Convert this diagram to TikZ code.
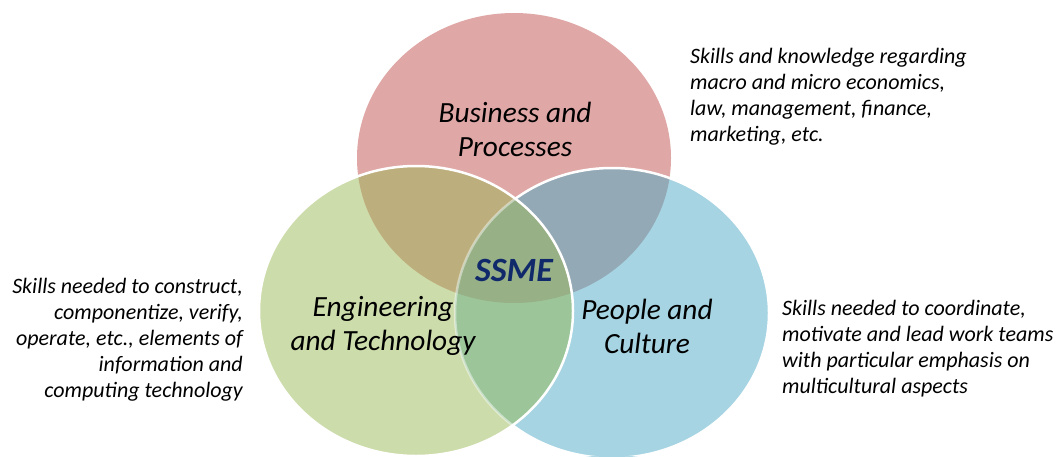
\documentclass[tikz,border=0pt]{standalone}
\usepackage{fontspec}
\setmainfont{Carlito}
\definecolor{cred}{HTML}{DFA7A6}
\definecolor{cgreen}{HTML}{CDDCAB}
\definecolor{cblue}{HTML}{A6D4E2}
\definecolor{crg}{HTML}{BDAF7D}
\definecolor{crb}{HTML}{94A9B6}
\definecolor{cgb}{HTML}{9CC69A}
\definecolor{call}{HTML}{98B085}
\definecolor{cnavy}{HTML}{10296B}
\begin{document}
\begin{tikzpicture}[x=1pt,y=-1pt,
  lbl/.style={font=\itshape\fontsize{29.3}{34}\selectfont,align=center,inner sep=0pt},
  desc/.style={font=\itshape\fontsize{22}{26}\selectfont,inner sep=0pt}]
\useasboundingbox (0,0) rectangle (1057,456);
\clip (0,0) rectangle (1057,456);
\def\red{(514,158) ellipse [x radius=157pt, y radius=145pt]}
\def\grn{(416,311) ellipse [x radius=157pt, y radius=145pt]}
\def\blu{(612,313) ellipse [x radius=157pt, y radius=145pt]}
\fill[cred] \red;
\fill[cgreen] \grn;
\fill[cblue] \blu;
\begin{scope}\clip \red; \fill[crg] \grn; \fill[crb] \blu; \end{scope}
\begin{scope}\clip \grn; \fill[cgb] \blu; \end{scope}
\begin{scope}\clip \red; \clip \grn; \fill[call] \blu; \end{scope}
% outlines
\begin{scope}[even odd rule]
  \clip (0,0) rectangle (1057,456) \grn;
  \draw[white,line width=2.5pt] \blu;
\end{scope}
\begin{scope}\clip \grn; \draw[white,opacity=0.45,line width=2.5pt] \blu; \end{scope}
\draw[white,line width=2.5pt] \grn;
% labels
\node[lbl] (bp) at (515,129) {Business and\\Processes};
\node[lbl] (et) at (383,326) {Engineering\\and Technology};
\node[lbl] (pc) at (647,326) {People and\\Culture};
\node[font=\bfseries\itshape\fontsize{34}{40}\selectfont,text=cnavy,inner sep=0pt] (ssme) at (514,270) {SSME};
\node[desc,anchor=north west,align=left] (dtop) at (690,48) {Skills and knowledge regarding\\macro and micro economics,\\law, management, finance,\\marketing, etc.};
\node[desc,anchor=north east,align=right] (dleft) at (243,278) {Skills needed to construct,\\componentize, verify,\\operate, etc., elements of\\information and\\computing technology};
\node[desc,anchor=north west,align=left] (dright) at (782,300) {Skills needed to coordinate,\\motivate and lead work teams\\with particular emphasis on\\multicultural aspects};
\end{tikzpicture}
\end{document}
